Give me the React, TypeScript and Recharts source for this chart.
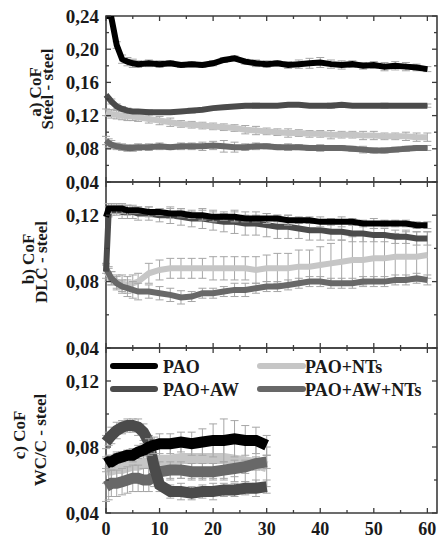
import { LineChart, Line, XAxis, YAxis, ErrorBar, ReferenceArea, Legend } from 'recharts'

// time (min) for panels a) and b)
const TIME_AB = [0, 0.5, 1, 2, 3, 4, 5, 6, 8, 10, 12, 14, 16, 18, 20, 22, 24, 26, 28, 30, 32, 34, 36, 38, 40, 42, 44, 46, 48, 50, 52, 54, 56, 58, 60]
// time (min) for panel c)
const TIME_C = [0, 0.5, 1, 2, 3, 4, 5, 6, 7, 8, 9, 10, 12, 14, 16, 18, 20, 22, 24, 26, 28, 30]

// a) Steel - steel
const PAO_A = [0.24, 0.24, 0.238, 0.205, 0.188, 0.185, 0.183, 0.182, 0.183, 0.182, 0.183, 0.181, 0.182, 0.181, 0.183, 0.187, 0.189, 0.185, 0.183, 0.182, 0.183, 0.181, 0.182, 0.183, 0.184, 0.182, 0.181, 0.182, 0.18, 0.181, 0.179, 0.18, 0.179, 0.178, 0.176]
const PAO_A_ERR = [0, 0, 0, 0.004, 0.005, 0.005, 0.005, 0.004, 0.004, 0.004, 0.003, 0.003, 0.003, 0.003, 0.003, 0.003, 0.003, 0.003, 0.004, 0.004, 0.003, 0.004, 0.005, 0.006, 0.006, 0.005, 0.005, 0.004, 0.004, 0.004, 0.005, 0.005, 0.005, 0.004, 0.003]
const AW_A = [0.145, 0.141, 0.137, 0.131, 0.128, 0.126, 0.125, 0.125, 0.124, 0.124, 0.124, 0.125, 0.126, 0.127, 0.129, 0.13, 0.131, 0.132, 0.132, 0.132, 0.132, 0.133, 0.133, 0.132, 0.132, 0.132, 0.133, 0.132, 0.132, 0.132, 0.132, 0.132, 0.132, 0.132, 0.132]
const AW_A_ERR = [0, 0, 0.003, 0.003, 0.003, 0.003, 0.002, 0.002, 0.003, 0.002, 0.002, 0.002, 0.003, 0.002, 0.002, 0.002, 0.002, 0.002, 0.003, 0.002, 0.002, 0.002, 0.002, 0.002, 0.002, 0.003, 0.002, 0.002, 0.002, 0.002, 0.003, 0.002, 0.002, 0.002, 0.002]
const NTS_A = [0.124, 0.123, 0.122, 0.121, 0.12, 0.119, 0.119, 0.118, 0.116, 0.114, 0.112, 0.11, 0.109, 0.108, 0.107, 0.106, 0.105, 0.103, 0.102, 0.101, 0.1, 0.099, 0.099, 0.098, 0.098, 0.097, 0.097, 0.097, 0.096, 0.096, 0.095, 0.095, 0.095, 0.094, 0.094]
const NTS_A_ERR = [0.004, 0.004, 0.005, 0.005, 0.005, 0.005, 0.005, 0.005, 0.005, 0.005, 0.005, 0.004, 0.004, 0.004, 0.004, 0.004, 0.004, 0.005, 0.005, 0.004, 0.004, 0.005, 0.004, 0.004, 0.004, 0.005, 0.004, 0.004, 0.005, 0.005, 0.004, 0.004, 0.005, 0.005, 0.005]
const AWNTS_A = [0.09, 0.087, 0.085, 0.083, 0.082, 0.081, 0.081, 0.082, 0.082, 0.083, 0.082, 0.083, 0.083, 0.083, 0.084, 0.083, 0.082, 0.082, 0.083, 0.083, 0.082, 0.082, 0.082, 0.081, 0.081, 0.081, 0.081, 0.08, 0.079, 0.078, 0.078, 0.079, 0.08, 0.081, 0.081]
const AWNTS_A_ERR = [0.005, 0.005, 0.005, 0.004, 0.004, 0.004, 0.004, 0.004, 0.004, 0.004, 0.003, 0.004, 0.004, 0.005, 0.005, 0.007, 0.006, 0.004, 0.004, 0.003, 0.003, 0.004, 0.003, 0.003, 0.004, 0.003, 0.003, 0.003, 0.004, 0.003, 0.003, 0.003, 0.003, 0.003, 0.003]

// b) DLC - steel
const PAO_B = [0.119, 0.124, 0.124, 0.124, 0.124, 0.123, 0.123, 0.123, 0.122, 0.122, 0.121, 0.121, 0.12, 0.12, 0.119, 0.119, 0.119, 0.118, 0.118, 0.118, 0.118, 0.117, 0.117, 0.117, 0.116, 0.116, 0.116, 0.116, 0.115, 0.115, 0.115, 0.115, 0.115, 0.114, 0.114]
const PAO_B_ERR = [0, 0.003, 0.003, 0.003, 0.003, 0.003, 0.002, 0.002, 0.003, 0.002, 0.003, 0.002, 0.002, 0.003, 0.003, 0.002, 0.003, 0.002, 0.002, 0.003, 0.002, 0.003, 0.002, 0.002, 0.003, 0.002, 0.003, 0.002, 0.002, 0.003, 0.002, 0.002, 0.002, 0.002, 0.002]
const AW_B = [0.086, 0.122, 0.123, 0.123, 0.122, 0.122, 0.122, 0.121, 0.121, 0.12, 0.12, 0.119, 0.118, 0.118, 0.117, 0.116, 0.116, 0.115, 0.115, 0.114, 0.113, 0.113, 0.112, 0.111, 0.111, 0.11, 0.11, 0.109, 0.109, 0.108, 0.108, 0.107, 0.107, 0.106, 0.106]
const AW_B_ERR = [0, 0.003, 0.003, 0.003, 0.004, 0.004, 0.004, 0.004, 0.004, 0.004, 0.005, 0.005, 0.005, 0.006, 0.006, 0.006, 0.007, 0.007, 0.007, 0.007, 0.007, 0.007, 0.006, 0.006, 0.006, 0.005, 0.005, 0.005, 0.005, 0.004, 0.004, 0.004, 0.004, 0.004, 0.004]
const NTS_B = [0.086, 0.084, 0.082, 0.08, 0.079, 0.078, 0.079, 0.08, 0.085, 0.087, 0.088, 0.088, 0.088, 0.088, 0.088, 0.088, 0.088, 0.088, 0.087, 0.088, 0.088, 0.088, 0.089, 0.089, 0.09, 0.091, 0.092, 0.093, 0.093, 0.094, 0.094, 0.095, 0.095, 0.095, 0.096]
const NTS_B_ERR = [0.004, 0.004, 0.004, 0.004, 0.005, 0.005, 0.005, 0.005, 0.006, 0.006, 0.006, 0.006, 0.006, 0.006, 0.007, 0.007, 0.007, 0.007, 0.008, 0.008, 0.009, 0.009, 0.01, 0.01, 0.011, 0.012, 0.013, 0.014, 0.015, 0.015, 0.015, 0.014, 0.015, 0.015, 0.014]
const AWNTS_B = [0.088, 0.085, 0.082, 0.079, 0.077, 0.076, 0.075, 0.074, 0.074, 0.073, 0.072, 0.0705, 0.071, 0.073, 0.073, 0.074, 0.075, 0.075, 0.076, 0.077, 0.077, 0.078, 0.079, 0.08, 0.08, 0.079, 0.079, 0.079, 0.08, 0.08, 0.08, 0.081, 0.081, 0.082, 0.081]
const AWNTS_B_ERR = [0.003, 0.004, 0.004, 0.004, 0.004, 0.005, 0.005, 0.005, 0.004, 0.004, 0.004, 0.004, 0.003, 0.003, 0.003, 0.003, 0.004, 0.004, 0.003, 0.003, 0.003, 0.003, 0.003, 0.003, 0.003, 0.003, 0.003, 0.003, 0.003, 0.003, 0.003, 0.003, 0.003, 0.003, 0.003]

// c) WC/C - steel
const PAO_C = [0.07, 0.071, 0.071, 0.073, 0.074, 0.075, 0.075, 0.077, 0.078, 0.08, 0.081, 0.082, 0.082, 0.083, 0.082, 0.083, 0.084, 0.084, 0.085, 0.084, 0.084, 0.081]
const PAO_C_ERR = [0.003, 0.003, 0.003, 0.003, 0.003, 0.003, 0.004, 0.004, 0.004, 0.005, 0.005, 0.006, 0.006, 0.006, 0.007, 0.008, 0.01, 0.013, 0.011, 0.009, 0.008, 0.006]
const AW_C = [0.083, 0.085, 0.087, 0.09, 0.092, 0.093, 0.093, 0.092, 0.089, 0.083, 0.068, 0.057, 0.053, 0.053, 0.052, 0.053, 0.053, 0.054, 0.054, 0.055, 0.055, 0.056]
const AW_C_ERR = [0.004, 0.004, 0.005, 0.005, 0.004, 0.004, 0.004, 0.005, 0.005, 0.004, 0.004, 0.004, 0.004, 0.005, 0.004, 0.004, 0.005, 0.004, 0.004, 0.004, 0.005, 0.004]
const NTS_C = [0.066, 0.066, 0.066, 0.067, 0.067, 0.068, 0.069, 0.069, 0.07, 0.07, 0.071, 0.072, 0.072, 0.073, 0.073, 0.073, 0.073, 0.073, 0.072, 0.071, 0.07, 0.068]
const NTS_C_ERR = [0.008, 0.009, 0.009, 0.01, 0.01, 0.01, 0.01, 0.01, 0.011, 0.011, 0.012, 0.012, 0.012, 0.012, 0.012, 0.012, 0.012, 0.013, 0.013, 0.012, 0.012, 0.012]
const AWNTS_C = [0.056, 0.057, 0.058, 0.058, 0.059, 0.06, 0.061, 0.061, 0.06, 0.06, 0.062, 0.065, 0.066, 0.066, 0.065, 0.065, 0.065, 0.066, 0.067, 0.068, 0.07, 0.071]
const AWNTS_C_ERR = [0.009, 0.009, 0.008, 0.008, 0.008, 0.008, 0.008, 0.008, 0.007, 0.007, 0.006, 0.006, 0.005, 0.005, 0.005, 0.005, 0.005, 0.005, 0.005, 0.004, 0.004, 0.004]

// axes
const X_TICKS = [0, 5, 10, 15, 20, 25, 30, 35, 40, 45, 50, 55, 60]
const X_LABELS = [0, 10, 20, 30, 40, 50, 60]
const X_MAX = 61.8
const A_TICKS = [0.04, 0.06, 0.08, 0.1, 0.12, 0.14, 0.16, 0.18, 0.2, 0.22, 0.24]
const A_LABELS = [0.04, 0.08, 0.12, 0.16, 0.2, 0.24]
const BC_TICKS = [0.04, 0.06, 0.08, 0.1, 0.12, 0.14]
const BC_LABELS = [0.04, 0.08, 0.12]

const LEGEND_ORDER = ['PAO', 'PAO+NTs', 'PAO+AW', 'PAO+AW+NTs']

const COLORS = {
  pao: '#000000',
  aw: '#4b4b4b',
  nts: '#c6c6c6',
  awnts: '#686868',
  err: '#a6a6a6',
  frame: '#3c3c3c',
}

const FONT = "'Liberation Serif', 'Times New Roman', serif"
const W = 438
const PLOT_LEFT = 106
const PLOT_RIGHT = 437

// drawn in this order, PAO on top
const SERIES = [
  { key: 'nts', name: 'PAO+NTs', color: COLORS.nts },
  { key: 'awnts', name: 'PAO+AW+NTs', color: COLORS.awnts },
  { key: 'aw', name: 'PAO+AW', color: COLORS.aw },
  { key: 'pao', name: 'PAO', color: COLORS.pao },
]

function buildRows(time: number[], cols: Record<string, number[]>) {
  return time.map((t, i) => {
    const row: any = { t }
    for (const k in cols) row[k] = cols[k][i]
    return row
  })
}

const ROWS_A = buildRows(TIME_AB, {
  pao: PAO_A, paoErr: PAO_A_ERR, aw: AW_A, awErr: AW_A_ERR,
  nts: NTS_A, ntsErr: NTS_A_ERR, awnts: AWNTS_A, awntsErr: AWNTS_A_ERR,
})
const ROWS_B = buildRows(TIME_AB, {
  pao: PAO_B, paoErr: PAO_B_ERR, aw: AW_B, awErr: AW_B_ERR,
  nts: NTS_B, ntsErr: NTS_B_ERR, awnts: AWNTS_B, awntsErr: AWNTS_B_ERR,
})
const ROWS_C = buildRows(TIME_C, {
  pao: PAO_C, paoErr: PAO_C_ERR, aw: AW_C, awErr: AW_C_ERR,
  nts: NTS_C, ntsErr: NTS_C_ERR, awnts: AWNTS_C, awntsErr: AWNTS_C_ERR,
})

const has = (arr: number[], v: number) => arr.some((a) => Math.abs(a - v) < 1e-9)

function XTick({ x, payload, plotTop, plotBottom, showLabels }: any) {
  const v = payload.value
  const major = has(X_LABELS, v)
  const len = major ? 5 : 3
  return (
    <g>
      <line x1={x} x2={x} y1={plotBottom} y2={plotBottom - len} stroke={COLORS.frame} strokeWidth={1.3} />
      <line x1={x} x2={x} y1={plotTop} y2={plotTop + len} stroke={COLORS.frame} strokeWidth={1.3} />
      {showLabels && major && (
        <text x={x} y={plotBottom + 22} textAnchor="middle" fontFamily={FONT} fontWeight="bold" fontSize={18} fill="#1a1a1a">
          {v}
        </text>
      )}
    </g>
  )
}

function YTick({ y, payload, labels }: any) {
  const v = payload.value
  const labeled = has(labels, v)
  const len = labeled ? 5 : 3
  return (
    <g>
      <line x1={PLOT_LEFT} x2={PLOT_LEFT + len} y1={y} y2={y} stroke={COLORS.frame} strokeWidth={1.3} />
      <line x1={PLOT_RIGHT} x2={PLOT_RIGHT - len} y1={y} y2={y} stroke={COLORS.frame} strokeWidth={1.3} />
      {labeled && (
        <text x={PLOT_LEFT - 7} y={y} dy={6.5} textAnchor="end" fontFamily={FONT} fontWeight="bold" fontSize={19} fill="#1a1a1a">
          {v.toFixed(2).replace('.', ',')}
        </text>
      )}
    </g>
  )
}

function AxisTitle({ lines }: { lines: { text: string; x: number; y: number }[] }) {
  return (
    <g>
      {lines.map((l) => (
        <text
          key={l.text}
          x={l.x}
          y={l.y}
          transform={`rotate(-90 ${l.x} ${l.y})`}
          textAnchor="middle"
          fontFamily={FONT}
          fontWeight="bold"
          fontSize={17}
          fill="#1a1a1a"
        >
          {l.text}
        </text>
      ))}
    </g>
  )
}

function LegendBox({ payload }: any) {
  const items = LEGEND_ORDER.map((name) => {
    const p = (payload || []).find((e: any) => e.value === name)
    const s = SERIES.find((e) => e.name === name)
    return { name, color: p?.color || s?.color }
  })
  const cols = [
    { lx1: 7, lx2: 49, tx: 57 },
    { lx1: 154, lx2: 197, tx: 199 },
  ]
  return (
    <svg width={330} height={50}>
      {items.map((it, i) => {
        const c = cols[i % 2]
        const cy = i < 2 ? 14 : 37
        return (
          <g key={it.name}>
            <line x1={c.lx1} x2={c.lx2} y1={cy} y2={cy} stroke={it.color} strokeWidth={6} strokeLinecap="round" />
            <text x={c.tx} y={cy + 6.5} fontFamily={FONT} fontWeight="bold" fontSize={18} fill="#1a1a1a">
              {it.name}
            </text>
          </g>
        )
      })}
    </svg>
  )
}

function Panel({ top, height, marginTop, xAxisHeight, rows, yDomain, yTicks, yLabels, title, showXLabels, strokeWidth, legend }: any) {
  const plotTop = marginTop
  const plotBottom = height - xAxisHeight
  return (
    <div style={{ position: 'absolute', left: 0, top }}>
      <LineChart width={W} height={height} data={rows} margin={{ top: marginTop, right: W - PLOT_RIGHT, bottom: 0, left: 0 }}>
        <XAxis
          dataKey="t"
          type="number"
          domain={[0, X_MAX]}
          ticks={X_TICKS}
          interval={0}
          height={xAxisHeight}
          axisLine={false}
          tickLine={false}
          tick={(tp: any) => <XTick x={tp.x} payload={tp.payload} plotTop={plotTop} plotBottom={plotBottom} showLabels={showXLabels} />}
        />
        <YAxis
          type="number"
          domain={yDomain}
          ticks={yTicks}
          interval={0}
          width={PLOT_LEFT}
          allowDataOverflow
          axisLine={false}
          tickLine={false}
          tick={(tp: any) => <YTick y={tp.y} payload={tp.payload} labels={yLabels} />}
          label={<AxisTitle lines={title} />}
        />
        <ReferenceArea x1={0} x2={X_MAX} y1={yDomain[0]} y2={yDomain[1]} fill="none" stroke={COLORS.frame} strokeWidth={1.6} />
        {SERIES.map((s) => (
          <Line
            key={s.key}
            type="linear"
            dataKey={s.key}
            name={s.name}
            stroke={s.color}
            strokeWidth={strokeWidth}
            dot={false}
            isAnimationActive={false}
          >
            <ErrorBar dataKey={s.key + 'Err'} width={4} stroke={COLORS.err} strokeWidth={1} direction="y" isAnimationActive={false} />
          </Line>
        ))}
        {legend && (
          <Legend
            layout="horizontal"
            verticalAlign="middle"
            align="center"
            wrapperStyle={{ left: PLOT_LEFT, top: 12, width: 330, height: 50 }}
            content={(lp: any) => <LegendBox payload={lp.payload} />}
          />
        )}
      </LineChart>
    </div>
  )
}

export default function App() {
  return (
    <div style={{ position: 'absolute', left: 0, top: 0, width: W, height: 538, background: '#ffffff', overflow: 'hidden' }}>
      <Panel
        top={0}
        height={198}
        marginTop={16}
        xAxisHeight={16}
        rows={ROWS_A}
        yDomain={[0.04, 0.24]}
        yTicks={A_TICKS}
        yLabels={A_LABELS}
        title={[
          { text: 'a) CoF', x: 41, y: 92 },
          { text: 'Steel - steel', x: 53, y: 89 },
        ]}
        showXLabels={false}
        strokeWidth={6}
      />
      <Panel
        top={174}
        height={190}
        marginTop={8}
        xAxisHeight={16}
        rows={ROWS_B}
        yDomain={[0.04, 0.14]}
        yTicks={BC_TICKS}
        yLabels={BC_LABELS}
        title={[
          { text: 'b) CoF', x: 34, y: 85 },
          { text: 'DLC - steel', x: 47, y: 88 },
        ]}
        showXLabels={false}
        strokeWidth={6}
      />
      <Panel
        top={340}
        height={198}
        marginTop={8}
        xAxisHeight={25}
        rows={ROWS_C}
        yDomain={[0.04, 0.14]}
        yTicks={BC_TICKS}
        yLabels={BC_LABELS}
        title={[
          { text: 'c) CoF', x: 25, y: 95 },
          { text: 'WC/C - steel', x: 46, y: 100 },
        ]}
        showXLabels
        strokeWidth={11}
        legend
      />
    </div>
  )
}
